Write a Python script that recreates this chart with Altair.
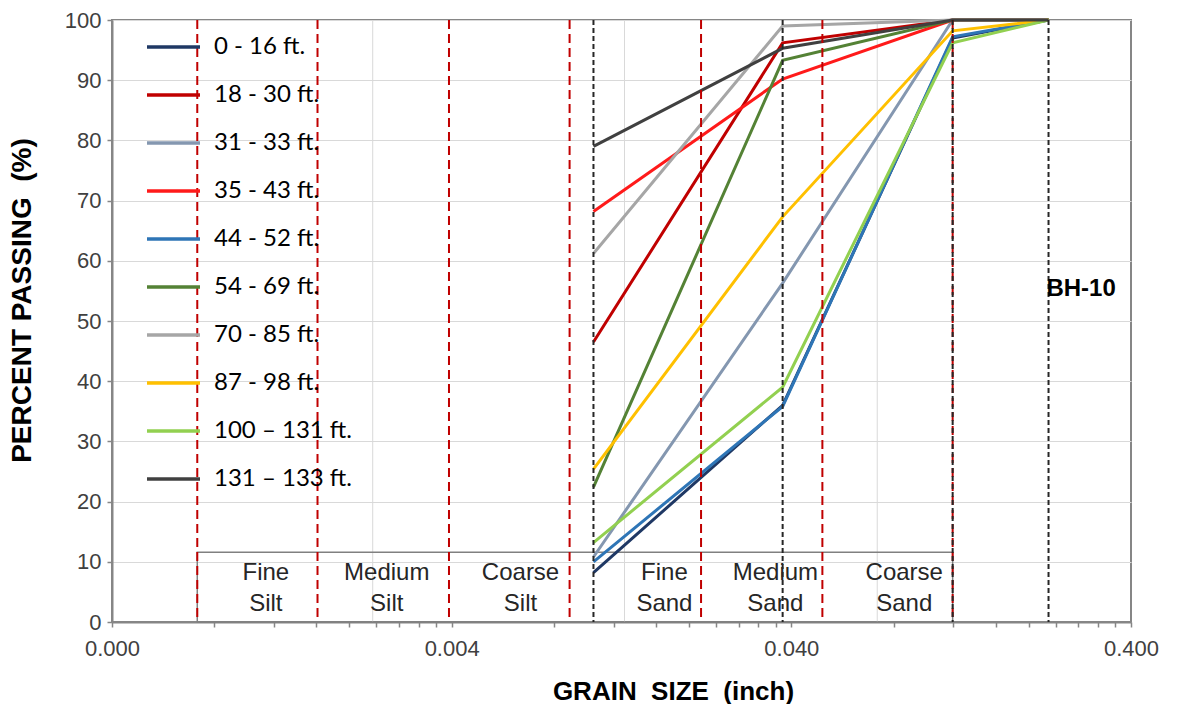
import altair as alt
import pandas as pd

# ---------------- data ----------------
sizes_in = [0.01046, 0.03771, 0.1194, 0.2287]

series_names = [
    "0 - 16 ft.", "18 - 30 ft.", "31 - 33 ft.", "35 - 43 ft.", "44 - 52 ft.",
    "54 - 69 ft.", "70 - 85 ft.", "87 - 98 ft.", "100 \u2013 131 ft.", "131 \u2013 133 ft.",
]
series_values = [
    [8.2, 36.0, 97.0, 100],
    [46.5, 96.2, 100, 100],
    [10.8, 56.3, 100, 100],
    [68.2, 90.2, 100, 100],
    [10.0, 35.8, 97.2, 100],
    [22.4, 93.3, 100, 100],
    [61.2, 99.0, 100, 100],
    [25.4, 67.3, 98.2, 100],
    [13.2, 39.0, 96.2, 100],
    [79.0, 95.3, 100, 100],
]
series_colors = [
    "#1F3864", "#C00000", "#8497B0", "#FF1A1A", "#2E75B6",
    "#548235", "#A6A6A6", "#FFC000", "#92D050", "#404040",
]

red_bounds = [0.000713, 0.001611, 0.003928, 0.008897, 0.02169, 0.04937, 0.1194]
sieve_lines = [0.01046, 0.03771, 0.1194, 0.2287]
grid_x = [0.002342, 0.01291, 0.0716]

soil_labels = ["Fine\nSilt", "Medium\nSilt", "Coarse\nSilt", "Fine\nSand", "Medium\nSand", "Coarse\nSand"]
soil_label_x = [0.001135, 0.002576, 0.00638, 0.01692, 0.0359, 0.0860]
soil_label_y = [8.1] * 6

box_x = [0.000713]
box_x2 = [0.1194]
box_y = [0]
box_y2 = [11.6]

bh_label = ["BH-10"]
bh_x = [0.2852]
bh_y = [55.3]

x_major = [0.0004, 0.004, 0.04, 0.4]

# ---------------- tables ----------------
rows = []
for name, vals in zip(series_names, series_values):
    for s, v in zip(sizes_in, vals):
        rows.append({"series": name, "size": s, "pct": v})
df = pd.DataFrame(rows)

x_ticks = []
for d in x_major[:-1]:
    for k in range(1, 10):
        x_ticks.append(round(d * k, 7))
x_ticks.append(x_major[-1])

x_scale = alt.Scale(type="log", domain=[0.0004, 0.4])
y_scale = alt.Scale(domain=[0, 100])

x_axis = alt.Axis(
    values=x_ticks,
    labelExpr="abs(log(datum.value/0.0004)/LN10 - round(log(datum.value/0.0004)/LN10)) < 0.001 ? format(datum.value, '.3f') : ''",
    grid=False,
    tickSize=5,
    tickColor="#868686",
    tickWidth=1.5,
    domainColor="#868686",
    domainWidth=2,
    labelFont="Liberation Sans",
    labelFontSize=22,
    labelColor="#404040",
    labelPadding=11,
    labelFlush=False,
    labelOverlap=False,
    title="GRAIN\u00a0\u00a0SIZE\u00a0\u00a0(inch)",
    titleFont="Liberation Sans",
    titleFontSize=26,
    titleFontWeight="bold",
    titleColor="#000000",
    titleX=561,
    titleY=69,
    titleBaseline="middle",
    titleAlign="center",
)

y_axis = alt.Axis(
    values=list(range(0, 101, 5)),
    labelExpr="datum.value % 10 == 0 ? datum.label : ''",
    grid=True,
    gridColor="#D9D9D9",
    gridWidth=1,
    gridOpacity={"condition": {"test": "datum.value % 10 == 0", "value": 1}, "value": 0},
    tickSize=5,
    tickColor="#868686",
    tickWidth=1.5,
    domainColor="#868686",
    domainWidth=2,
    labelFont="Liberation Sans",
    labelFontSize=22,
    labelColor="#404040",
    labelPadding=6,
    title="PERCENT\u00a0PASSING\u00a0\u00a0(%)",
    titleFont="Liberation Sans",
    titleFontSize=28,
    titleFontWeight="bold",
    titleColor="#000000",
    titleX=-90,
    titleY=280,
    titleBaseline="middle",
    titleAlign="center",
    titleAngle=270,
)

base_x = alt.X("size:Q", scale=x_scale, axis=x_axis)
base_y = alt.Y("pct:Q", scale=y_scale, axis=y_axis)

lines = alt.Chart(df).mark_line(strokeWidth=3).encode(
    x=base_x,
    y=base_y,
    color=alt.Color(
        "series:N",
        scale=alt.Scale(domain=series_names, range=series_colors),
        sort=series_names,
        legend=alt.Legend(
            title=None,
            orient="none",
            legendX=33,
            legendY=17,
            symbolType="stroke",
            symbolSize=2809,
            symbolStrokeWidth=3.5,
            clipHeight=20,
            rowPadding=24,
            labelOffset=12,
            labelFont="Lato",
            labelFontSize=24,
            labelColor="#000000",
            padding=0,
            labelLimit=300,
        ),
    ),
    order=alt.Order("size:Q"),
)

grid_df = pd.DataFrame({"gx": grid_x})
vgrid = alt.Chart(grid_df).mark_rule(color="#D9D9D9", strokeWidth=1).encode(
    x=alt.X("gx:Q", scale=x_scale)
)

box_df = pd.DataFrame({"x": box_x, "x2": box_x2, "y": box_y, "y2": box_y2})
box = alt.Chart(box_df).mark_rect(fill="white", fillOpacity=0, stroke="#808080", strokeWidth=1.5).encode(
    x=alt.X("x:Q", scale=x_scale), x2="x2:Q",
    y=alt.Y("y:Q", scale=y_scale), y2="y2:Q",
)

red_df = pd.DataFrame({"rx": red_bounds})
red_rules = alt.Chart(red_df).mark_rule(color="#C00000", strokeWidth=2, strokeDash=[9, 5]).encode(
    x=alt.X("rx:Q", scale=x_scale)
)

blk_df = pd.DataFrame({"bx": sieve_lines})
blk_rules = alt.Chart(blk_df).mark_rule(color="#262626", strokeWidth=2, strokeDash=[5, 3]).encode(
    x=alt.X("bx:Q", scale=x_scale)
)

soil_df = pd.DataFrame({"label": soil_labels, "lx": soil_label_x, "ly": soil_label_y})
soil_text = alt.Chart(soil_df).mark_text(
    font="Liberation Sans", fontSize=24, color="#262626", lineBreak="\n", lineHeight=31,
    align="center", baseline="middle",
).encode(
    x=alt.X("lx:Q", scale=x_scale), y=alt.Y("ly:Q", scale=y_scale), text="label:N"
)

bh_df = pd.DataFrame({"t": bh_label, "bx": bh_x, "by": bh_y})
bh_text = alt.Chart(bh_df).mark_text(
    font="Liberation Sans", fontSize=24, fontWeight="bold", color="#000000",
    align="center", baseline="middle",
).encode(
    x=alt.X("bx:Q", scale=x_scale), y=alt.Y("by:Q", scale=y_scale), text="t:N"
)

chart = alt.layer(
    vgrid, box, lines, red_rules, blk_rules, soil_text, bh_text
).properties(
    width=1019,
    height=602,
    autosize=alt.AutoSizeParams(type="none"),
    padding={"left": 112, "top": 20, "right": 52, "bottom": 82},
    background="white",
).configure_view(
    stroke="#868686", strokeWidth=2
)

chart.save("out.html", embed_options={"renderer": "svg", "actions": False})
